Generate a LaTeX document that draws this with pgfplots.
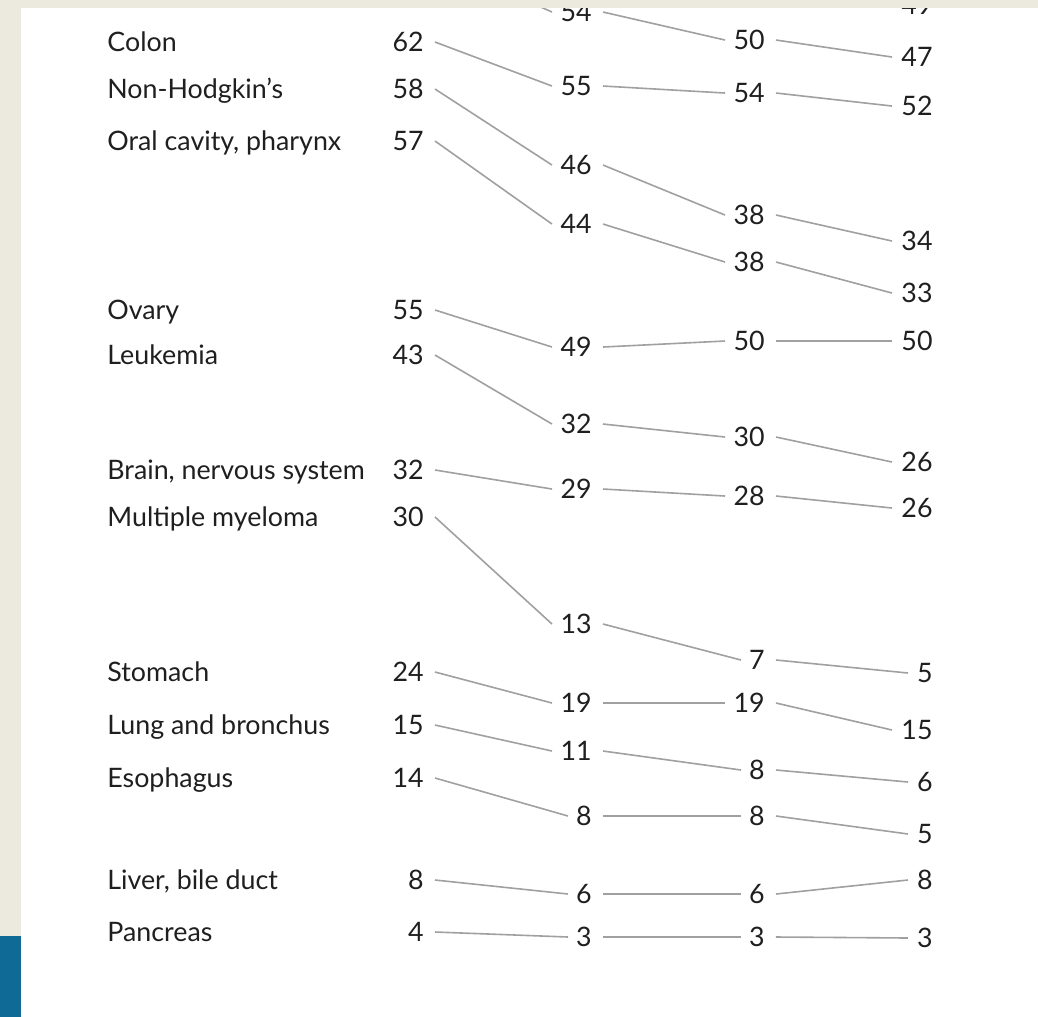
\documentclass[border=0pt]{standalone}
\usepackage{pgfplots}
\pgfplotsset{compat=1.18}
\usepackage{pgfplotstable}
\usepackage{fontspec}
\setmainfont{Lato}
\definecolor{bgbeige}{HTML}{ECE9DF}
\definecolor{sideblue}{HTML}{0F6A96}
\definecolor{txt}{HTML}{1F1F1F}
\definecolor{ln}{HTML}{A0A0A0}

% values (5, 10, 15, 20 year survival, %) and vertical layout positions (px from top)
\pgfplotstableread[col sep=semicolon]{
name;v1;v2;v3;v4;y1;y2;y3;y4
Rectum;63;55;52;49;-160;-80;-30;5
Kidney, renal pelvis;62;54;50;47;-40;12;40;57
Colon;62;55;54;52;42;86;93;106
Non-Hodgkin's;58;46;38;34;89;165;215;241
Oral cavity, pharynx;57;44;38;33;141;224;262;293
Ovary;55;49;50;50;310;347;341;341
Leukemia;43;32;30;26;355;424;437;462
Brain, nervous system;32;29;28;26;470;489;496;508
Multiple myeloma;30;13;7;5;517;624;660;673
Stomach;24;19;19;15;672;703;703;730
Lung and bronchus;15;11;8;6;725;751;770;782
Esophagus;14;8;8;5;778;816;816;834
Liver, bile duct;8;6;6;8;880;894;894;880
Pancreas;4;3;3;3;932;937;937;938
}\cancer

\begin{document}
\begin{tikzpicture}
\begin{axis}[
  at={(0,0)}, anchor=south west,
  x=0.5bp, y=0.5bp,
  xmin=0, xmax=1038, ymin=0, ymax=1017,
  y dir=reverse,
  hide axis, clip=false,
  lab/.style={only marks, mark=none, point meta=explicit symbolic,
    restrict y to domain=-20:1100,
    nodes near coords={\pgfplotspointmeta},
    nodes near coords align=center,
    every node near coord/.style={font=\fontsize{13.4bp}{16bp}\selectfont,
      text=txt, inner sep=0pt, anchor=#1, yshift=-4.7bp}},
  seg/.style={ln, line width=0.8bp},
]
% connecting segments
\addplot[seg, quiver={u={((\thisrow{v2}>9) ? 552 : 568) - 435}, v={\thisrow{y2}-\thisrow{y1}}}]
  table[x expr=435, y=y1] {\cancer};
\addplot[seg, quiver={u={((\thisrow{v3}>9) ? 725 : 741) - 603}, v={\thisrow{y3}-\thisrow{y2}}}]
  table[x expr=603, y=y2] {\cancer};
\addplot[seg, quiver={u={((\thisrow{v4}>9) ? 892 : 908) - 776}, v={\thisrow{y4}-\thisrow{y3}}}]
  table[x expr=776, y=y3] {\cancer};
% labels
\addplot[lab=base west] table[x expr=107, y=y1, meta=name] {\cancer};
\addplot[lab=base east] table[x expr=424, y=y1, meta=v1] {\cancer};
\addplot[lab=base east] table[x expr=592, y=y2, meta=v2] {\cancer};
\addplot[lab=base east] table[x expr=765, y=y3, meta=v3] {\cancer};
\addplot[lab=base east] table[x expr=933, y=y4, meta=v4] {\cancer};
\end{axis}
% page decoration (drawn over the plot)
\fill[bgbeige] (0,504.5bp) rectangle (519bp,600bp);
\fill[bgbeige] (0,40.5bp) rectangle (10.25bp,600bp);
\fill[sideblue] (0,0) rectangle (10.25bp,40.5bp);
\pgfresetboundingbox
\path (0,0) rectangle (519bp,508.5bp);
\end{tikzpicture}
\end{document}
